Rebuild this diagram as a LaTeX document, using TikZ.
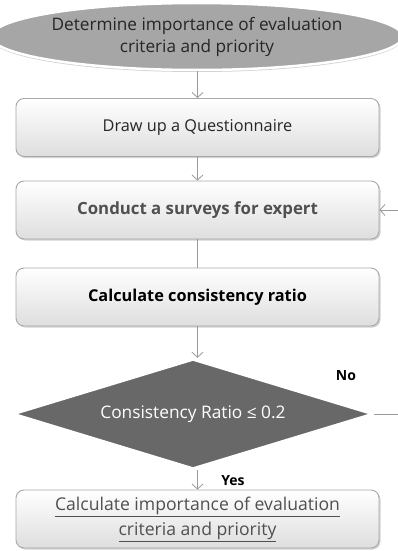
\documentclass[tikz,border=0pt]{standalone}
\usepackage{fontspec}
\setmainfont{Open Sans}
\usetikzlibrary{arrows.meta,shapes.geometric,shadows}
\definecolor{linegray}{HTML}{9A9A9A}
\definecolor{ellgray}{HTML}{A6A6A6}
\definecolor{diagray}{HTML}{686868}
\definecolor{boxedge}{HTML}{A8A8A8}
\definecolor{txtgray}{HTML}{505050}
\tikzset{
  flowbox/.style={draw=boxedge, line width=0.9pt, rounded corners=8pt,
    minimum width=363pt, minimum height=58pt, top color=white, bottom color=black!13,
    drop shadow={shadow xshift=1.5pt, shadow yshift=-1.5pt, opacity=0.35, fill=black!50},
    font=\fontsize{16.3}{19}\selectfont, align=center, inner sep=0pt},
  conn/.style={draw=linegray, line width=0.8pt},
  arr/.style={conn, -{Straight Barb[length=5pt,width=11pt]}},
  lbl/.style={font=\bfseries\fontsize{14}{16}\selectfont, inner sep=0pt}
}
\begin{document}
\begin{tikzpicture}[x=1pt,y=-1pt]
\useasboundingbox (0,0) rectangle (398,551);
\fill[white] (0,0) rectangle (398,551);
\node[ellipse, fill=ellgray, draw=white, line width=2.5pt,
  minimum width=370pt, minimum height=67pt, inner sep=0pt,
  drop shadow={shadow xshift=0pt, shadow yshift=-2pt, opacity=0.3, fill=black!60},
  align=center, text=black!85, font=\fontsize{17.2}{22}\selectfont] (start) at (197,36.5)
  {Determine importance of evaluation\\criteria and priority};
\node[flowbox, text=black!85] (q) at (197.5,127.5) {Draw up a Questionnaire};
\node[flowbox, text=txtgray, font=\bfseries\fontsize{16.8}{19}\selectfont] (s) at (197.5,210) {Conduct a surveys for expert};
\node[flowbox, text=black, font=\bfseries\fontsize{16.3}{19}\selectfont] (c) at (197.5,297) {Calculate consistency ratio};
\node[diamond, fill=diagray, draw=white, line width=2.5pt, aspect=3.35,
  minimum width=360pt, minimum height=110pt, inner sep=0pt,
  text=white, font=\fontsize{17.3}{19}\selectfont] (d) at (193,414) {Consistency Ratio \symbol{"2264} 0.2};
\node[flowbox, text=txtgray, font=\fontsize{17.6}{25}\selectfont] (r) at (197.5,519) {\underline{Calculate importance of evaluation}\\\underline{criteria and priority}};
\coordinate (back) at (398,210);
\coordinate (out) at (398,414);
\draw[arr] (start.south -| q.north) -- (q.north);
\draw[arr] (q.south) -- (s.north);
\draw[conn] (s.south) -- (c.north);
\draw[arr] (c.south) -- (d.north -| c.south);
\draw[arr] (d.south -| r.north) -- (r.north);
\draw[conn] (d.east) -- (out);
\draw[arr] (back) -- (s.east);
\node[lbl] (no) at (346,376) {No};
\node[lbl] (yes) at (233,481) {Yes};
\end{tikzpicture}
\end{document}
